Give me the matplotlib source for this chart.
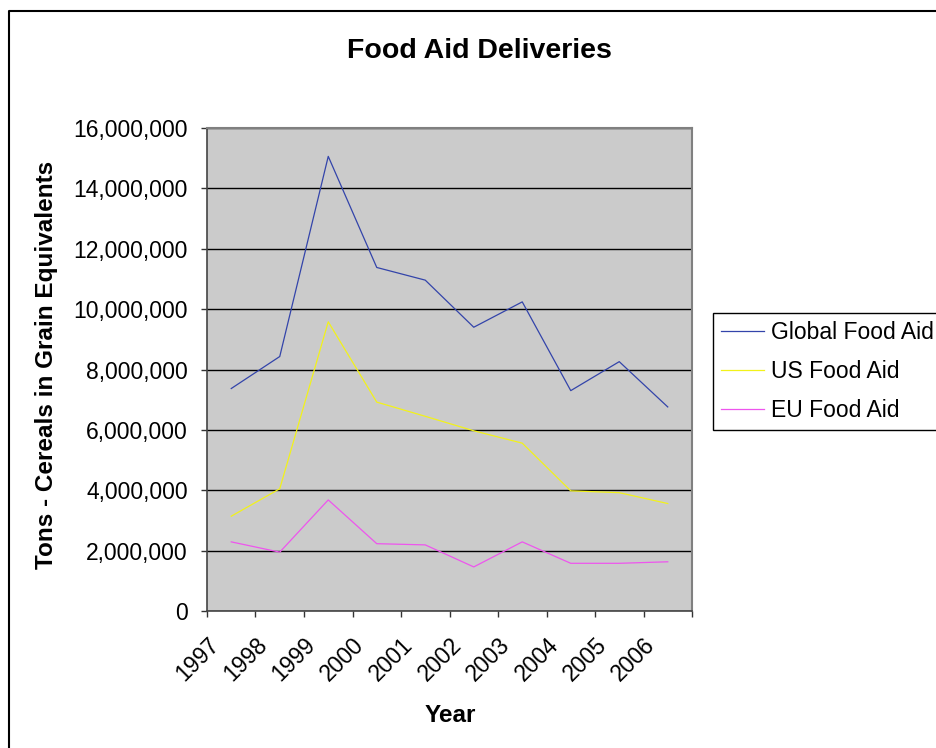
import matplotlib
matplotlib.use('Agg')
import matplotlib.pyplot as plt
from matplotlib.lines import Line2D
from matplotlib.ticker import FuncFormatter, MultipleLocator, FixedLocator, FixedFormatter

years = ['1997', '1998', '1999', '2000', '2001', '2002', '2003', '2004', '2005', '2006']
global_aid = [7.37e6, 8.43e6, 15.06e6, 11.38e6, 10.96e6, 9.40e6, 10.24e6, 7.30e6, 8.26e6, 6.76e6]
us_aid = [3.14e6, 4.05e6, 9.58e6, 6.92e6, 6.45e6, 5.97e6, 5.56e6, 3.98e6, 3.92e6, 3.56e6]
eu_aid = [2.29e6, 1.95e6, 3.68e6, 2.23e6, 2.19e6, 1.46e6, 2.29e6, 1.58e6, 1.58e6, 1.63e6]
series_names = ['Global Food Aid', 'US Food Aid', 'EU Food Aid']

plt.rcParams['font.family'] = ['Liberation Sans', 'DejaVu Sans']
W, H = 937, 748
fig = plt.figure(figsize=(W / 100, H / 100), dpi=100)
ax = fig.add_axes([207 / W, 1 - 611 / H, 485 / W, 483 / H])
ax.set_facecolor('#cbcbcb')

n = len(years)
x = [i + 0.5 for i in range(n)]
ax.plot(x, global_aid, color='#3344aa', lw=0.9, label=series_names[0])
ax.plot(x, us_aid, color='#f2f21a', lw=0.9, label=series_names[1])
ax.plot(x, eu_aid, color='#ee55ee', lw=0.9, label=series_names[2])

ax.set_xlim(0, n)
ax.set_ylim(0, 16e6)
ax.yaxis.set_major_locator(MultipleLocator(2e6))
ax.yaxis.set_major_formatter(FuncFormatter(lambda v, p: f'{int(round(v)):,}'))
ax.grid(axis='y', color='black', lw=1.0)
ax.set_axisbelow(True)

# category boundaries as major ticks, labels as minor ticks
ax.xaxis.set_major_locator(FixedLocator(list(range(n + 1))))
ax.xaxis.set_major_formatter(FuncFormatter(lambda v, p: ''))
ax.xaxis.set_minor_locator(FixedLocator([i + 0.001 for i in range(n)]))
ax.xaxis.set_minor_formatter(FixedFormatter(years))
ax.tick_params(axis='x', which='major', direction='out', length=6 * 0.72, width=1.0, color='#333333')
ax.tick_params(axis='x', which='minor', length=0, pad=16, labelsize=16.5)
for lbl in ax.xaxis.get_minorticklabels():
    lbl.set_rotation(45)
    lbl.set_ha('right')
    lbl.set_va('top')
    lbl.set_rotation_mode('anchor')
ax.tick_params(axis='y', direction='out', length=6 * 0.72, width=1.0, color='#333333', pad=9.4, labelsize=16.5)

for s in ['left', 'bottom']:
    ax.spines[s].set_color('#444444')
    ax.spines[s].set_linewidth(1.2)
for s in ['top', 'right']:
    ax.spines[s].set_color('#808080')
    ax.spines[s].set_linewidth(1.5)

leg = fig.legend(loc='upper left', bbox_to_anchor=(712.7 / W, 1 - 312.7 / H), borderaxespad=0,
                 fontsize=16.5, frameon=True, fancybox=False, edgecolor='black', framealpha=1,
                 handlelength=1.89, handletextpad=0.29, labelspacing=0.7, borderpad=0.36)
leg.get_frame().set_linewidth(1.0)

fig.text(479 / W, 1 - 58.3 / H, 'Food Aid Deliveries', ha='center', va='baseline',
         fontsize=20.5, fontweight='bold')
fig.text(47 / W, 1 - 365 / H, 'Tons - Cereals in Grain Equivalents', rotation=90,
         ha='center', va='center', fontsize=17.5, fontweight='bold')
fig.text(450 / W, 1 - 721.7 / H, 'Year', ha='center', va='baseline', fontsize=17.5, fontweight='bold')

fig.add_artist(Line2D([9.5 / W, 9.5 / W, 1], [0, 1 - 10.5 / H, 1 - 10.5 / H],
                      transform=fig.transFigure, color='black', lw=1.5))

fig.savefig('out.png', dpi=100)
